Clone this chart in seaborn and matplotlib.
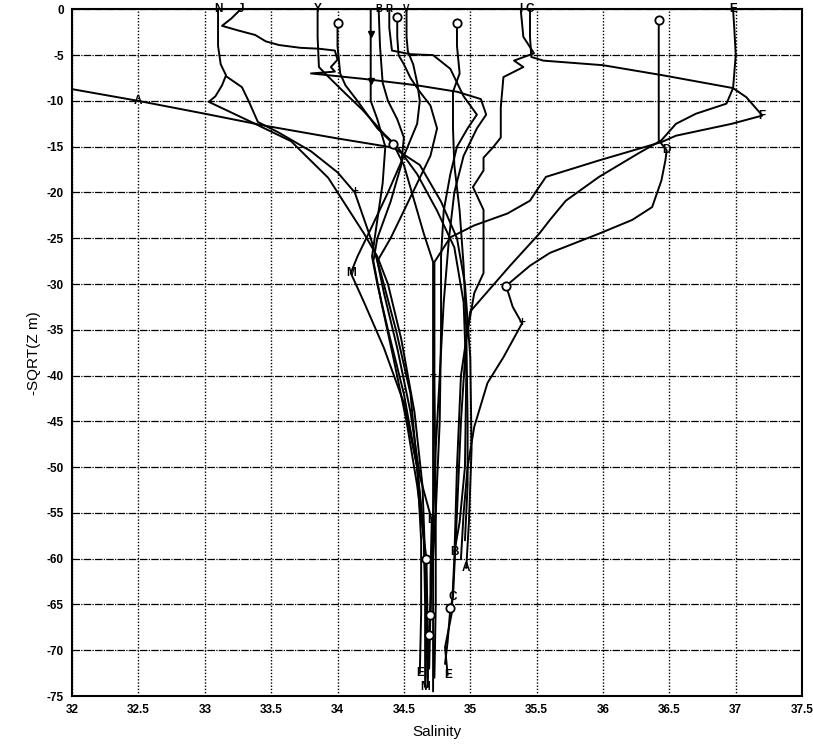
import numpy as np
import pandas as pd
import matplotlib
matplotlib.use("Agg")
import matplotlib.pyplot as plt
import seaborn as sns

# ---- station profiles: salinity vs -sqrt(depth) ----
sal_A = [31.8, 32.5, 33.0, 33.45, 34.0, 34.42, 34.62, 34.78, 34.9, 34.96, 35.0, 35.01, 34.99, 34.97]
z_A = [-8.2, -10.0, -11.4, -12.7, -14.1, -15.1, -17.0, -21.0, -25.0, -30.0, -38.0, -48.0, -56.0, -61.0]

sal_N = [33.10, 33.10, 33.12, 33.16, 33.13, 33.08, 33.03, 33.35, 33.65, 33.93, 34.2, 34.3, 34.38, 34.48, 34.58, 34.64, 34.66, 34.67, 34.68]
z_N = [0, -4, -6, -7.2, -8.3, -9.5, -10.1, -12.3, -14.4, -18.4, -24.5, -27.0, -30, -36, -44, -52, -60, -68, -74]

sal_N2 = [33.16, 33.28, 33.33, 33.4, 33.55, 33.8, 34.0, 34.13, 34.25, 34.33, 34.44, 34.55, 34.6, 34.63, 34.63, 34.62]
z_N2 = [-7.3, -8.5, -10.0, -12.3, -13.4, -15.5, -17.8, -20.0, -25.0, -29.0, -35.0, -42.0, -50.0, -58.0, -66.0, -72.5]

sal_J = [33.27, 33.2, 33.13, 33.25, 33.38, 33.46, 33.56, 33.72, 33.86, 33.98, 34.0, 33.95, 33.98, 33.8, 34.2,
         34.6, 34.9, 35.08, 35.12, 35.05, 34.95, 34.88, 34.84, 34.8, 34.77, 34.74, 34.72, 34.7, 34.69]
z_J = [0, -1.0, -1.8, -2.3, -2.8, -3.5, -3.9, -4.2, -4.3, -4.5, -5.5, -6.3, -6.8, -7.0, -7.6,
       -8.3, -9.0, -9.8, -11.5, -13.0, -16.0, -20.0, -25.0, -32.0, -40.0, -48.0, -56.0, -66.0, -72.0]

sal_Y = [33.85, 33.85, 33.86, 33.92, 34.06, 34.19, 34.35, 34.45, 34.6, 34.75, 34.88, 34.95, 34.97, 34.96, 34.92, 34.88]
z_Y = [0, -3, -6.3, -7.2, -9.2, -11.0, -13.6, -15.0, -18.0, -22.0, -26.0, -32.0, -40.0, -50.0, -56.0, -59.3]

sal_Q = [34.0, 34.0, 34.02, 34.06, 34.15, 34.3, 34.42, 34.5, 34.58, 34.65, 34.72, 34.72, 34.72, 34.72, 34.72]
z_Q = [-1.5, -4, -7.0, -8.3, -10.0, -13.0, -14.7, -17.0, -21.0, -24.5, -27.6, -40.0, -55.0, -65.0, -74.5]

sal_T = [34.25, 34.25, 34.25, 34.25, 34.3, 34.36, 34.34, 34.3, 34.26, 34.3, 34.38, 34.5, 34.6, 34.65, 34.67, 34.68]
z_T = [0, -2.7, -7.8, -10.0, -12.0, -15.0, -19.0, -23.0, -27.0, -30.0, -35.0, -42.0, -50.0, -58.0, -66.0, -74.0]

sal_B = [34.31, 34.32, 34.34, 34.38, 34.45, 34.5, 34.48, 34.4, 34.3, 34.27, 34.33, 34.42, 34.52, 34.6, 34.67, 34.68, 34.68]
z_B = [0, -4, -8, -10, -12, -14, -17, -21, -25, -27.5, -32, -38, -45, -52, -60, -68, -73]

sal_R = [34.39, 34.39, 34.41, 34.55, 34.72, 34.85, 34.9, 34.95, 35.05, 34.98, 34.9, 34.85, 34.8, 34.78,
         34.78, 34.77, 34.74, 34.71, 34.69, 34.69]
z_R = [0, -2, -4.5, -4.9, -5.0, -6.5, -8.0, -9.5, -11.5, -13.0, -15.0, -18.0, -22.0, -27.0,
       -35.0, -45.0, -55.0, -62.0, -68.3, -72.0]

sal_Dc = [34.45, 34.45, 34.46, 34.5, 34.55, 34.62, 34.7, 34.75, 34.7, 34.6, 34.5, 34.4, 34.3, 34.35,
          34.45, 34.55, 34.62, 34.71, 34.7, 34.7]
z_Dc = [-0.8, -3, -5, -6, -7.5, -9, -10.5, -13, -16, -19, -22, -25, -27.5, -31,
        -37, -44, -51, -55.8, -62, -66.2]

sal_V = [34.52, 34.52, 34.53, 34.57, 34.6, 34.62, 34.6, 34.5, 34.38, 34.25, 34.15, 34.1, 34.2, 34.35,
         34.5, 34.6, 34.65, 34.66, 34.66]
z_V = [0, -3, -4.6, -6.0, -8.0, -10.0, -12.5, -16.0, -20.0, -24.0, -27.0, -28.8, -32.0, -37.0,
       -43.0, -50.0, -57.0, -65.0, -74.0]

sal_O = [34.9, 34.9, 34.92, 34.87, 34.87, 34.88, 34.92, 34.95, 34.97, 34.98, 34.98, 34.96]
z_O = [-1.5, -4, -7, -9, -13, -17, -22, -28, -35, -45, -52, -58]

sal_I = [35.38, 35.4, 35.48, 35.33, 35.4, 35.25, 35.23, 35.23, 35.17, 35.1, 35.1, 35.02, 35.1, 35.1,
         35.1, 35.03, 34.97, 34.93, 34.9, 34.87, 34.85, 34.83, 34.81]
z_I = [0, -3, -4.8, -5.6, -6.3, -7.4, -10.7, -14.0, -15.1, -16.2, -17.6, -19.4, -21.9, -26.0,
       -28.8, -31.0, -36.0, -45.0, -55.0, -64.2, -65.4, -69.0, -71.5]

sal_C = [35.45, 35.45, 35.46, 35.55, 36.0, 36.45, 36.98, 37.08, 37.2, 36.97, 36.55, 36.44, 35.97, 35.57,
         35.5, 35.45, 35.28, 35.03, 34.85, 34.73, 34.73, 34.74, 34.74, 34.73]
z_C = [0, -3, -5.2, -5.6, -6.1, -7.2, -8.6, -9.6, -11.6, -12.5, -13.8, -14.5, -16.5, -18.3,
       -19.8, -20.9, -22.3, -23.6, -24.9, -27.6, -40, -55, -65, -73]

sal_D = [36.42, 36.42, 36.42, 36.42, 36.48, 36.47, 36.44, 36.37, 36.22, 35.97, 35.6, 35.45, 35.27, 35.32,
         35.39, 35.25, 35.13, 35.03, 34.98, 34.95, 34.93]
z_D = [-1.2, -5, -10, -14.3, -15.4, -16.5, -18.7, -21.6, -23.0, -24.5, -26.6, -28.0, -30.2, -32.5,
       -34.3, -38.0, -40.8, -45.6, -50.0, -55.0, -60.0]

sal_E = [36.98, 36.99, 37.0, 36.98, 36.93, 36.7, 36.55, 36.44, 36.27, 35.97, 35.72, 35.6, 35.52, 35.3,
         35.0, 34.93, 34.9, 34.88, 34.86, 34.81, 34.83]
z_E = [0, -2.3, -5, -8.6, -10.3, -11.4, -12.5, -14.3, -15.7, -18.3, -20.9, -23.0, -24.5, -28.0,
       -33.0, -40.0, -50.0, -60.0, -66.0, -69.7, -72.7]

stations = {
    "A": (sal_A, z_A), "N": (sal_N, z_N), "N2": (sal_N2, z_N2), "J": (sal_J, z_J),
    "Y": (sal_Y, z_Y), "Q": (sal_Q, z_Q), "T": (sal_T, z_T), "B": (sal_B, z_B),
    "R": (sal_R, z_R), "Dc": (sal_Dc, z_Dc), "V": (sal_V, z_V), "O": (sal_O, z_O),
    "I": (sal_I, z_I), "C": (sal_C, z_C), "D": (sal_D, z_D), "E": (sal_E, z_E),
}

# letter tags: (station, point index, text, font size)
letter_tags = [
    ("N", 0, "N", 8.5), ("J", 0, "J", 8.5), ("Y", 0, "Y", 8.5),
    ("B", 0, "B", 7), ("R", 0, "R", 7), ("V", 0, "V", 7),
    ("I", 0, "I", 8.5), ("C", 0, "C", 8.5), ("E", 0, "E", 8.5),
    ("A", 1, "A", 8.5), ("C", 8, "F", 8.5), ("D", 4, "D", 8.5), ("V", 11, "M", 8.5),
    ("N2", 7, "+", 8.5), ("Q", 11, "+", 8.5), ("D", 14, "+", 8.5),
    ("A", -1, "A", 8.5), ("Y", -1, "B", 8.5), ("I", 19, "C", 8.5), ("E", -1, "E", 8.5),
    ("N2", -1, "E", 8.5), ("V", -1, "M", 8.5), ("Dc", 17, "D", 8.5),
]
# open-circle tags: (station, point index)
circle_tags = [
    ("Q", 0), ("Dc", 0), ("O", 0), ("D", 0), ("Q", 6), ("D", 12),
    ("I", 20), ("Dc", -1), ("R", 18), ("B", 14),
]
# arrow tags on the T station
arrow_tags = [("T", 1), ("T", 2)]

xtick_vals = [32, 32.5, 33, 33.5, 34, 34.5, 35, 35.5, 36, 36.5, 37, 37.5]
xtick_labels = ["32", "32.5", "33", "33.5", "34", "34.5", "35", "35.5", "36", "36.5", "37", "37.5"]
ytick_vals = [0, -5, -10, -15, -20, -25, -30, -35, -40, -45, -50, -55, -60, -65, -70, -75]
ytick_labels = [str(v) for v in ytick_vals]

rows = []
for name, (s, z) in stations.items():
    for i, (sv, zv) in enumerate(zip(s, z)):
        rows.append({"station": name, "order": i, "salinity": sv, "depth": zv})
df = pd.DataFrame(rows)

sns.set_theme(style="white")
plt.rcParams["font.family"] = ["Liberation Sans", "DejaVu Sans"]
plt.rcParams["axes.unicode_minus"] = False

fig = plt.figure(figsize=(8.13, 7.48), dpi=100)
ax = fig.add_axes([0.0886, 0.0695, 0.898, 0.918])

sns.lineplot(data=df, x="salinity", y="depth", units="station", estimator=None,
             sort=False, color="black", linewidth=1.4, ax=ax, legend=False)

ax.set_xlim(32, 37.5)
ax.set_ylim(-75, 0)
ax.set_xticks(xtick_vals)
ax.set_xticklabels(xtick_labels)
ax.set_yticks(ytick_vals)
ax.set_yticklabels(ytick_labels)

ax.xaxis.grid(True, color="black", linestyle=(0, (1.0, 1.3)), linewidth=1.0)
ax.yaxis.grid(True, color="black", linestyle=(0, (6, 1, 1, 1)), linewidth=0.9)
ax.set_axisbelow(True)

for sp in ax.spines.values():
    sp.set_visible(True)
    sp.set_color("black")
    sp.set_linewidth(1.5)

ax.tick_params(axis="both", direction="out", length=4, width=1.2, colors="black",
               labelsize=8.5, pad=2)
for lab in ax.get_xticklabels() + ax.get_yticklabels():
    lab.set_fontweight("bold")

ax.set_xlabel("Salinity", fontsize=11, color="black", labelpad=6)
ax.set_ylabel("-SQRT(Z m)", fontsize=11, color="black", labelpad=4)

for st, idx, txt, fs in letter_tags:
    s, z = stations[st]
    ax.text(s[idx], z[idx], txt, ha="center", va="center", fontsize=fs,
            fontweight="bold", color="black", zorder=5)

for st, idx in circle_tags:
    s, z = stations[st]
    ax.plot(s[idx], z[idx], marker="o", ms=6, mfc="white", mec="black", mew=1.3,
            clip_on=False, zorder=5)

for st, idx in arrow_tags:
    s, z = stations[st]
    ax.plot(s[idx], z[idx], marker="v", ms=5, color="black", clip_on=False, zorder=5)

fig.savefig("out.png", dpi=100, facecolor="white")
